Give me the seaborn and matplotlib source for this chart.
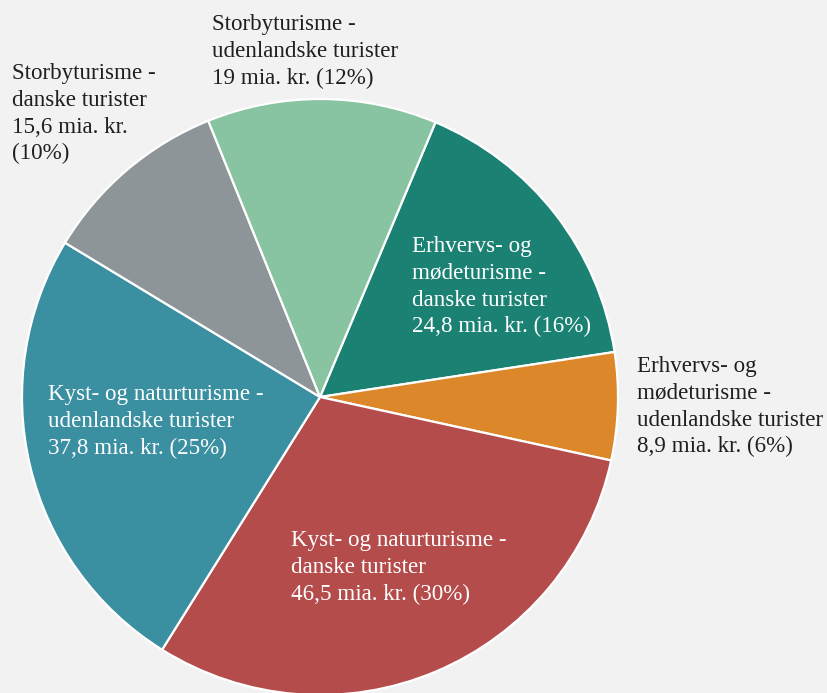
import matplotlib
matplotlib.use("Agg")
import matplotlib.pyplot as plt
import seaborn as sns

# Turismeforbrug fordelt på forretningsområder (mia. kr.)
categories = [
    "Erhvervs- og\nmødeturisme -\ndanske turister",
    "Erhvervs- og\nmødeturisme -\nudenlandske turister",
    "Kyst- og naturturisme -\ndanske turister",
    "Kyst- og naturturisme -\nudenlandske turister",
    "Storbyturisme -\ndanske turister",
    "Storbyturisme -\nudenlandske turister",
]
values = [24.8, 8.9, 46.5, 37.8, 15.6, 19.0]
# line break before the percentage for the narrow top-left label
pct_break = [False, False, False, False, True, False]
colors = ["#1b8173", "#dc8729", "#b54c4c", "#3a8fa1", "#8e9598", "#88c4a1"]
inside = [True, False, True, True, False, False]

# label anchors (figure pixels, top-left of text block)
label_px = [(412, 236), (637, 356), (291, 530), (48, 384), (12, 63), (212, 14)]

sns.set_theme(style="white")
plt.rcParams["font.family"] = ["Liberation Serif", "DejaVu Serif"]

W, H = 827, 693
fig = plt.figure(figsize=(W / 100, H / 100), dpi=100)
fig.patch.set_facecolor("#f2f2f2")

cx, cy, r = 320, 397, 298
ax = fig.add_axes([(cx - r) / W, (H - cy - r) / H, 2 * r / W, 2 * r / H])
ax.set_facecolor("#f2f2f2")
ax.axis("off")

ax.pie(values, colors=colors, startangle=67.2, counterclock=False,
       radius=1.0, wedgeprops=dict(edgecolor="white", linewidth=1.6))
ax.set_xlim(-1, 1)
ax.set_ylim(-1, 1)

total = sum(values)


def fmt(v):
    return f"{v:g}".replace(".", ",")


for cat, v, br, ins, (px, py) in zip(categories, values, pct_break, inside, label_px):
    pct = round(v / total * 100)
    sep = "\n" if br else " "
    txt = f"{cat}\n{fmt(v)} mia. kr.{sep}({pct}%)"
    fig.text(px / W, 1 - py / H, txt, ha="left", va="top", fontsize=16.6,
             linespacing=1.36, color="white" if ins else "#1f1f1f")

fig.savefig("out.png", dpi=100, facecolor=fig.get_facecolor())
